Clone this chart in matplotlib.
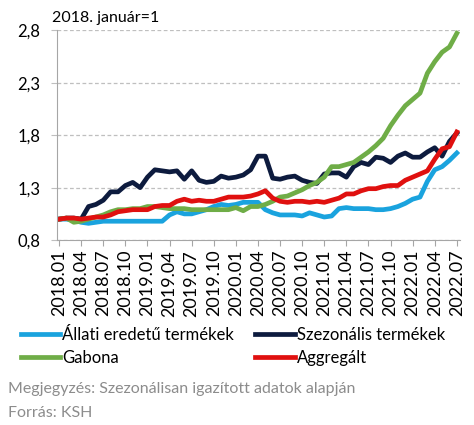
import matplotlib
matplotlib.use("Agg")
import matplotlib.pyplot as plt
import numpy as np

plt.rcParams['font.family'] = ['Lato', 'DejaVu Sans']

# months 2018.01 .. 2022.07
months = [f"{y}.{m:02d}" for y in range(2018, 2023) for m in range(1, 13)][:55]
tick_labels = months[::3]

allati = [1.00, 1.00, 0.99, 0.97, 0.96, 0.97, 0.98, 0.98, 0.98, 0.98,
          0.98, 0.98, 0.98, 0.98, 0.98, 1.04, 1.07, 1.05, 1.05, 1.07,
          1.09, 1.12, 1.14, 1.13, 1.14, 1.16, 1.16, 1.16, 1.09, 1.06,
          1.04, 1.04, 1.04, 1.03, 1.06, 1.04, 1.02, 1.03, 1.10, 1.11,
          1.10, 1.10, 1.10, 1.09, 1.09, 1.10, 1.12, 1.15, 1.19, 1.21,
          1.36, 1.47, 1.50, 1.56, 1.63]
szezonalis = [1.00, 1.01, 1.01, 1.00, 1.12, 1.14, 1.18, 1.26, 1.26, 1.32,
              1.35, 1.30, 1.40, 1.47, 1.46, 1.45, 1.46, 1.38, 1.46, 1.37,
              1.35, 1.36, 1.41, 1.39, 1.40, 1.42, 1.47, 1.60, 1.60, 1.39,
              1.38, 1.40, 1.41, 1.37, 1.35, 1.34, 1.43, 1.44, 1.44, 1.40,
              1.50, 1.54, 1.52, 1.59, 1.58, 1.54, 1.60, 1.63, 1.59, 1.59,
              1.64, 1.68, 1.60, 1.74, 1.82]
gabona = [1.00, 1.01, 0.97, 0.98, 1.00, 1.02, 1.04, 1.07, 1.09, 1.09,
          1.10, 1.10, 1.12, 1.12, 1.11, 1.10, 1.10, 1.10, 1.09, 1.09,
          1.09, 1.09, 1.09, 1.09, 1.11, 1.08, 1.12, 1.12, 1.14, 1.17,
          1.21, 1.22, 1.25, 1.28, 1.32, 1.35, 1.40, 1.50, 1.50, 1.52,
          1.54, 1.59, 1.64, 1.70, 1.77, 1.89, 1.99, 2.08, 2.14, 2.20,
          2.39, 2.50, 2.59, 2.64, 2.77]
aggregalt = [1.00, 1.01, 1.01, 1.00, 1.01, 1.02, 1.02, 1.04, 1.07, 1.08,
             1.09, 1.09, 1.09, 1.12, 1.13, 1.13, 1.17, 1.19, 1.17, 1.18,
             1.17, 1.17, 1.19, 1.21, 1.21, 1.21, 1.22, 1.24, 1.27, 1.20,
             1.17, 1.16, 1.17, 1.17, 1.16, 1.17, 1.16, 1.18, 1.20, 1.24,
             1.24, 1.27, 1.29, 1.29, 1.31, 1.32, 1.32, 1.37, 1.40, 1.43,
             1.46, 1.57, 1.67, 1.69, 1.83]

series_names = ["Állati eredetű termékek", "Szezonális termékek", "Gabona", "Aggregált"]
colors = ["#1AA3DE", "#0D1B3E", "#6FAD47", "#E0100F"]

fig = plt.figure(figsize=(4.74, 4.25), dpi=100)
ax = fig.add_axes([0.120, 0.435, 0.850, 0.494])

x = np.arange(len(months))
handles = []
for name, vals, c in zip(series_names, [allati, szezonalis, gabona, aggregalt], colors):
    h, = ax.plot(x, vals, color=c, lw=3.4, label=name, solid_joinstyle='round')
    handles.append(h)
ax.set_xlim(-0.3, 54.4)
ax.set_ylim(0.8, 2.8)
ax.set_yticks([0.8, 1.3, 1.8, 2.3, 2.8])
ax.set_yticklabels(["0,8", "1,3", "1,8", "2,3", "2,8"], fontsize=12)
ax.set_xticks(x[::3])
ax.set_xticklabels(tick_labels, rotation=90, fontsize=13)
ax.yaxis.grid(True, linestyle=(0, (3, 2)), color="#BFBFBF", lw=0.9)
ax.set_axisbelow(True)
for s in ["top", "right"]:
    ax.spines[s].set_visible(False)
for s in ["left", "bottom"]:
    ax.spines[s].set_color("#A6A6A6")
ax.tick_params(axis='y', length=4, color="#BFBFBF", pad=8)
ax.tick_params(axis='x', length=4, color="#A6A6A6", pad=3)

fig.text(0.11, 0.958, "2018. január=1", fontsize=11.5, ha='left', va='center')

order = [0, 2, 1, 3]
leg = fig.legend([handles[i] for i in order], [series_names[i] for i in order],
                 loc='upper left', bbox_to_anchor=(0.044, 0.231), ncol=2, frameon=False,
                 fontsize=12, handlelength=2.35, handletextpad=0.12, columnspacing=1.3,
                 labelspacing=0.43, borderaxespad=0, borderpad=0)

fig.text(0.017, 0.085, "Megjegyzés: Szezonálisan igazított adatok alapján", fontsize=11.5,
         color="#8C8C8C", ha='left', va='center')
fig.text(0.017, 0.028, "Forrás: KSH", fontsize=11.5, color="#8C8C8C", ha='left', va='center')

fig.savefig("out.png", dpi=100)
